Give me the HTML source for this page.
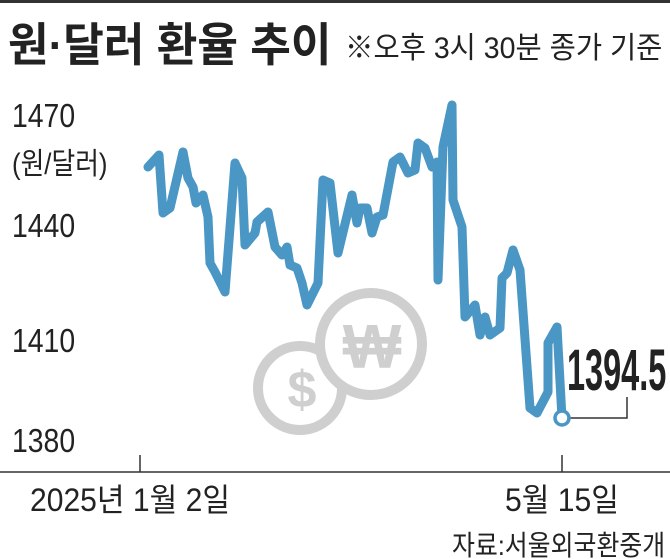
<!DOCTYPE html>
<html><head><meta charset="utf-8"><style>
body{margin:0;background:#fff;}
svg{display:block}
</style></head><body>
<svg width="670" height="559" viewBox="0 0 670 559" font-family="'Liberation Sans','Noto Sans CJK KR',sans-serif">
<rect x="0" y="0" width="670" height="3" fill="#333"/>
<text x="8" y="61" font-size="46" font-weight="bold" fill="#222" transform="translate(8,0) scale(0.96,1) translate(-8,0)">원·달러 환율 추이</text>
<text x="345" y="58" font-size="30" fill="#222" transform="translate(345,0) scale(0.95,1) translate(-345,0)">※오후 3시 30분 종가 기준</text>
<g font-size="33" fill="#222" transform="translate(12,0) scale(0.86,1) translate(-12,0)">
<text x="12" y="127">1470</text>
<text x="12" y="174" font-size="30">(원/달러)</text>
<text x="12" y="237">1440</text>
<text x="12" y="352">1410</text>
<text x="12" y="452">1380</text>
</g>
<g fill="none" stroke="#cfcfcf" stroke-width="10">
<circle cx="300" cy="388" r="42" fill="#fff"/>
<circle cx="371" cy="344" r="51" fill="#fff"/>
</g>
<text x="302" y="407" font-size="52" font-weight="bold" fill="#cfcfcf" text-anchor="middle">$</text>
<text x="372" y="368" font-size="62" font-weight="bold" fill="#cfcfcf" text-anchor="middle">₩</text>
<polyline fill="none" stroke="#4a96c4" stroke-width="9" stroke-linejoin="round" stroke-linecap="round" points="148,167 159,155 163,213 170,208 183,152 188,178 193,187 196,203 203,195 208,217 210,263 215,272 225,292 235,163 242,178 245,245 255,233 257,222 268,212 275,247 282,255 287,247 290,265 297,268 302,283 307,305 318,283 323,180 330,183 338,253 352,195 357,223 360,208 367,208 372,233 377,217 383,215 393,162 400,157 408,173 415,170 418,143 425,148 432,167 437,162 438,280 443,147 452,105 453,200 462,227 465,317 475,305 480,335 485,317 490,335 500,328 502,278 507,273 513,250 520,270 530,408 537,413 548,392 548,343 557,327 562,418"/>
<polyline fill="none" stroke="#333" stroke-width="1.5" points="570,418 627,418 627,397"/>
<circle cx="562" cy="418" r="7" fill="#fff" stroke="#4a96c4" stroke-width="3.5"/>
<text x="567" y="390" font-size="58" font-weight="bold" fill="#222" transform="translate(567,0) scale(0.56,1) translate(-567,0)">1394.5</text>
<line x1="0" y1="472" x2="670" y2="472" stroke="#333" stroke-width="1.5"/>
<line x1="140" y1="455" x2="140" y2="472" stroke="#333" stroke-width="1.5"/>
<line x1="562" y1="455" x2="562" y2="472" stroke="#333" stroke-width="1.5"/>
<text x="30" y="511" font-size="32" fill="#222" transform="translate(30,0) scale(0.94,1) translate(-30,0)">2025년 1월 2일</text>
<text x="505" y="511" font-size="32" fill="#222" transform="translate(505,0) scale(0.94,1) translate(-505,0)">5월 15일</text>
<text x="452" y="555" font-size="28" fill="#222" transform="translate(452,0) scale(0.89,1) translate(-452,0)">자료:서울외국환중개</text>
</svg>
</body></html>
